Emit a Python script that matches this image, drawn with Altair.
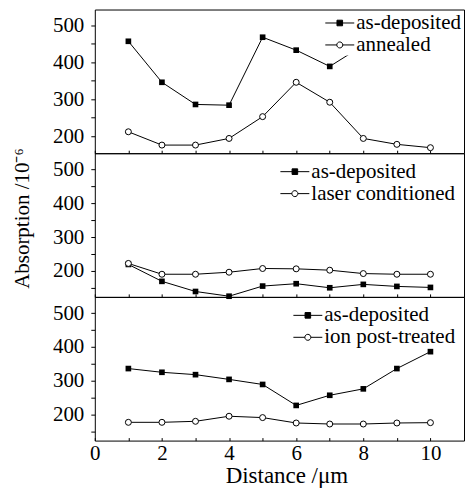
import altair as alt
import pandas as pd

FONT = "Liberation Serif"

# ---------------- data ----------------
x_vals = [1, 2, 3, 4, 5, 6, 7, 8, 9, 10]

series_a = "as-deposited"

top_label = "annealed"
top_asdep = [457, 346, 286, 284, 468, 433, 389, 446, 452, 460]
top_other = [212, 176, 176, 194, 253, 346, 292, 194, 178, 169]

mid_label = "laser conditioned"
mid_asdep = [219, 169, 139, 125, 155, 162, 150, 160, 154, 151]
mid_other = [222, 190, 190, 196, 207, 206, 202, 192, 190, 190]

bot_label = "ion post-treated"
bot_asdep = [336, 325, 318, 304, 289, 227, 257, 276, 336, 386]
bot_other = [177, 177, 180, 195, 191, 175, 172, 172, 175, 176]

top_ydomain = [154, 543]
mid_ydomain = [123, 548]
bot_ydomain = [123, 548]

top_yticks = [200, 250, 300, 350, 400, 450, 500]
mid_yticks = [150, 200, 250, 300, 350, 400, 450, 500]
bot_yticks = [150, 200, 250, 300, 350, 400, 450, 500]

x_domain = [0, 11]
x_ticks = [0, 1, 2, 3, 4, 5, 6, 7, 8, 9, 10]

y_title = "Absorption /10\u207b\u2076"
x_title = "Distance /\u03bcm"

# legend symbol paths (line + marker)
SQ_PATH = "M-1.45,0H1.45M-0.28,-0.28H0.28V0.28H-0.28Z"
CI_PATH = "M-1.45,0H-0.3M0.3,0H1.45M0.3,0A0.3,0.3 0 1,1 -0.3,0A0.3,0.3 0 1,1 0.3,0Z"


def panel(asdep, other, other_label, ydom, yticks, bottom, ytitle, leg_offset):
    df = pd.DataFrame({
        "x": x_vals + x_vals,
        "y": asdep + other,
        "s": [series_a] * len(asdep) + [other_label] * len(other),
    })
    xscale = alt.Scale(domain=x_domain, nice=False, zero=False)
    yscale = alt.Scale(domain=ydom, nice=False, zero=False)
    font_args = dict(labelFont=FONT, labelFontSize=21, labelColor="black",
                     titleFont=FONT, titleFontWeight="normal",
                     titleColor="black", tickColor="black", tickWidth=1)
    if bottom:
        xaxis = alt.Axis(values=x_ticks, labelExpr="datum.value % 2 == 0 ? datum.label : ''",
                         tickSize=3, offset=-3, domain=False, grid=False, labelFlush=False,
                         labelPadding=2, title=x_title, titlePadding=1, titleFontSize=23,
                         titleX=192, labelOverlap=False, **font_args)
    else:
        xaxis = alt.Axis(values=x_ticks, labels=False, tickSize=3, offset=-3, domain=False,
                         grid=False, title=None, **font_args)
    yargs = dict(values=yticks, labelExpr="datum.value % 100 == 0 ? datum.label : ''",
                 tickSize=4, domain=False, grid=False, labelPadding=7, labelOverlap=False,
                 **font_args)
    if ytitle:
        yaxis = alt.Axis(title=ytitle, titlePadding=20, titleY=65, titleFontSize=21, **yargs)
    else:
        yaxis = alt.Axis(title=None, **yargs)

    base = alt.Chart(df)
    X = alt.X("x:Q", scale=xscale, axis=xaxis)
    Y = alt.Y("y:Q", scale=yscale, axis=yaxis)

    line = base.mark_line(color="black", strokeWidth=1).encode(x=X, y=Y, detail="s:N")
    sq = base.transform_filter(alt.datum.s == series_a).mark_point(
        shape="square", filled=True, color="black", size=32, opacity=1
    ).encode(x=X, y=Y)
    ci = base.transform_filter(alt.datum.s != series_a).mark_point(
        shape="circle", fill="white", stroke="black", strokeWidth=1, size=36, opacity=1
    ).encode(x=X, y=Y)

    leg = alt.Legend(title=None, orient="top-right", offset=leg_offset, padding=0,
                     fillColor="white", symbolSize=400, symbolStrokeWidth=1,
                     labelOffset=6, rowPadding=0,
                     labelFont=FONT, labelFontSize=21, labelColor="black", labelLimit=300)
    dom = [series_a, other_label]
    legend_layer = base.transform_filter("false").mark_point(
        strokeWidth=1, opacity=1, filled=True
    ).encode(
        x=X, y=Y,
        shape=alt.Shape("s:N", scale=alt.Scale(domain=dom, range=[SQ_PATH, CI_PATH]), legend=leg),
        fill=alt.Fill("s:N", scale=alt.Scale(domain=dom, range=["black", "white"]), legend=leg),
        stroke=alt.Stroke("s:N", scale=alt.Scale(domain=dom, range=["black", "black"]), legend=leg),
    )
    return alt.layer(line, sq, ci, legend_layer).properties(width=370, height=144)


top = panel(top_asdep, top_other, top_label, top_ydomain, top_yticks, False, None, 3)
mid = panel(mid_asdep, mid_other, mid_label, mid_ydomain, mid_yticks, False, y_title, 8)
bot = panel(bot_asdep, bot_other, bot_label, bot_ydomain, bot_yticks, True, None, 8)

chart = alt.vconcat(top, mid, bot, spacing=0, bounds="flush").resolve_scale(
    y="independent", shape="independent", fill="independent", stroke="independent"
).resolve_legend(shape="independent", fill="independent", stroke="independent").properties(
    padding={"left": 3, "top": 0, "right": 0, "bottom": 0},
    background="white",
).configure_view(
    stroke="black", strokeWidth=1
).configure_axis(
    labelFont=FONT, titleFont=FONT, labelFontSize=21,
    titleFontWeight="normal", labelColor="black", titleColor="black",
    tickColor="black", tickWidth=1
).configure_legend(
    labelFont=FONT, labelFontSize=21
)

chart.save("out.html", embed_options={"renderer": "svg", "actions": False})
